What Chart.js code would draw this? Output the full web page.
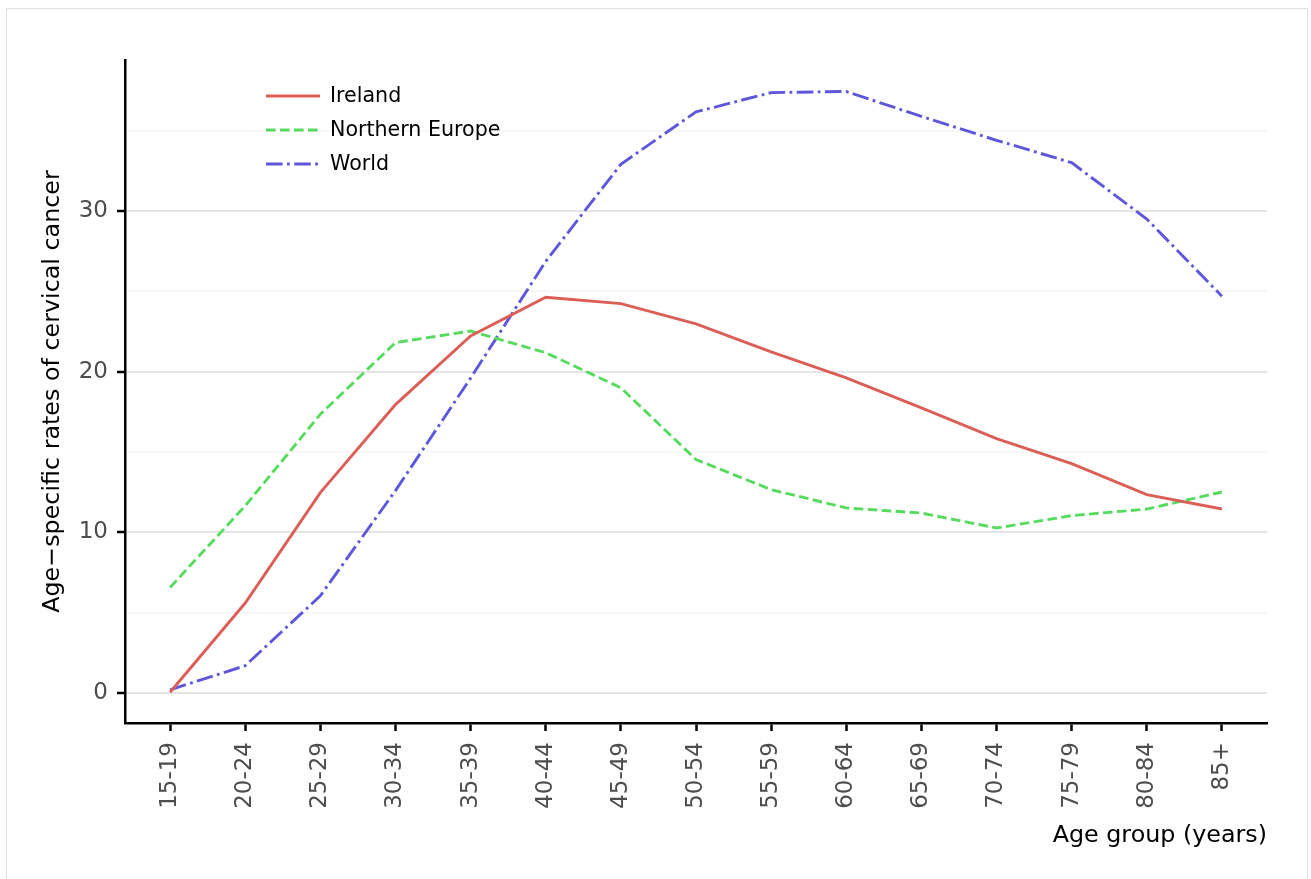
<!DOCTYPE html>
<html>
<head>
<meta charset="utf-8">
<title>Age-specific rates of cervical cancer</title>
<script src="https://cdn.jsdelivr.net/npm/chart.js@4.4.1/dist/chart.umd.min.js"></script>
<style>
  html, body { margin: 0; padding: 0; background: #fff; }
  .frame {
    position: absolute; left: 6px; top: 8px;
    width: 1300px; height: 900px;
    border: 1px solid #e0e0e0;
  }
  #chart { position: absolute; left: 0; top: 0; }
</style>
</head>
<body>
<div class="frame"></div>
<canvas id="chart" width="1311" height="879"></canvas>
<script>
// ================= DATA =================
const ageGroups = ["15-19", "20-24", "25-29", "30-34", "35-39", "40-44", "45-49",
  "50-54", "55-59", "60-64", "65-69", "70-74", "75-79", "80-84", "85+"];

const ireland = [0.05, 5.6, 12.47, 17.95, 22.23, 24.63, 24.24, 22.98, 21.24, 19.62,
  17.75, 15.84, 14.28, 12.35, 11.45];
const northernEurope = [6.57, 11.65, 17.35, 21.81, 22.53, 21.18, 19.0, 14.53, 12.66,
  11.52, 11.2, 10.27, 11.04, 11.45, 12.51];
const world = [0.2, 1.7, 6.05, 12.6, 19.6, 26.87, 32.91, 36.17, 37.37, 37.44,
  35.89, 34.4, 33.01, 29.5, 24.7];

const yTicks = [0, 5, 10, 15, 20, 25, 30, 35];

const toPoints = arr => arr.map((v, i) => ({ x: i, y: v }));

// ================= LEGEND (inside plot, top left) =================
const insideLegend = {
  id: "insideLegend",
  afterDatasetsDraw(chart) {
    const ctx = chart.ctx;
    ctx.save();
    ctx.font = "20.6px 'DejaVu Sans'";
    ctx.textBaseline = "middle";
    chart.data.datasets.forEach((ds, i) => {
      const y = 96 + i * 34;
      ctx.strokeStyle = ds.borderColor;
      ctx.lineWidth = ds.borderWidth;
      ctx.setLineDash(ds.borderDash || []);
      ctx.beginPath();
      ctx.moveTo(266, y);
      ctx.lineTo(320, y);
      ctx.stroke();
      ctx.setLineDash([]);
      ctx.fillStyle = "#000";
      ctx.fillText(ds.label, 330, y + 1);
    });
    ctx.restore();
  }
};

// ================= CHART =================
Chart.defaults.font.family = "'DejaVu Sans', sans-serif";

new Chart(document.getElementById("chart"), {
  type: "line",
  data: {
    datasets: [
      {
        label: "Ireland",
        data: toPoints(ireland),
        borderColor: "#db5f57",
        borderWidth: 2.9,
        pointRadius: 0,
        tension: 0
      },
      {
        label: "Northern Europe",
        data: toPoints(northernEurope),
        borderColor: "#57db5f",
        borderWidth: 2.9,
        borderDash: [9.6, 4.4],
        pointRadius: 0,
        tension: 0
      },
      {
        label: "World",
        data: toPoints(world),
        borderColor: "#5f57db",
        borderWidth: 2.9,
        borderDash: [16.6, 4.4, 2.8, 4.4],
        pointRadius: 0,
        tension: 0
      }
    ]
  },
  options: {
    responsive: false,
    animation: false,
    devicePixelRatio: 1,
    layout: { padding: { left: 0, top: 60, right: 44, bottom: 0 } },
    plugins: {
      legend: { display: false },
      tooltip: { enabled: false }
    },
    scales: {
      x: {
        type: "linear",
        min: -0.6,
        max: 14.6,
        afterFit: s => { s.height = 156; },
        afterBuildTicks: s => { s.ticks = ageGroups.map((_, i) => ({ value: i })); },
        grid: {
          drawOnChartArea: false,
          drawTicks: true,
          tickLength: 8,
          tickColor: "#000",
          tickWidth: 2.5
        },
        border: { display: true, color: "#000", width: 2.5 },
        ticks: {
          autoSkip: false,
          minRotation: 90,
          maxRotation: 90,
          padding: 11,
          color: "#4d4d4d",
          font: { size: 23 },
          callback: v => ageGroups[v]
        },
        title: {
          display: true,
          text: "Age group (years)",
          align: "end",
          color: "#000",
          font: { size: 23.8 },
          padding: { top: 0, bottom: 29 }
        }
      },
      y: {
        min: -1.867,
        max: 39.4,
        afterFit: s => { s.width = 125; },
        afterBuildTicks: s => { s.ticks = yTicks.map(v => ({ value: v })); },
        grid: {
          color: c => (c.tick && c.tick.value % 10 === 0) ? "#e5e5e5" : "#f7f7f7",
          lineWidth: 2,
          tickLength: 8,
          tickColor: c => (c.tick && c.tick.value % 10 === 0) ? "#000" : "rgba(0,0,0,0)",
          tickWidth: 2.5
        },
        border: { display: true, color: "#000", width: 2.5 },
        ticks: {
          padding: 9,
          color: "#4d4d4d",
          font: { size: 23 },
          callback: v => (v % 10 === 0 ? String(v) : "")
        },
        title: {
          display: true,
          text: "Age\u2212specific rates of cervical cancer",
          color: "#000",
          font: { size: 23.8 },
          padding: { top: 39, bottom: 0 }
        }
      }
    }
  },
  plugins: [insideLegend]
});
</script>
</body>
</html>
